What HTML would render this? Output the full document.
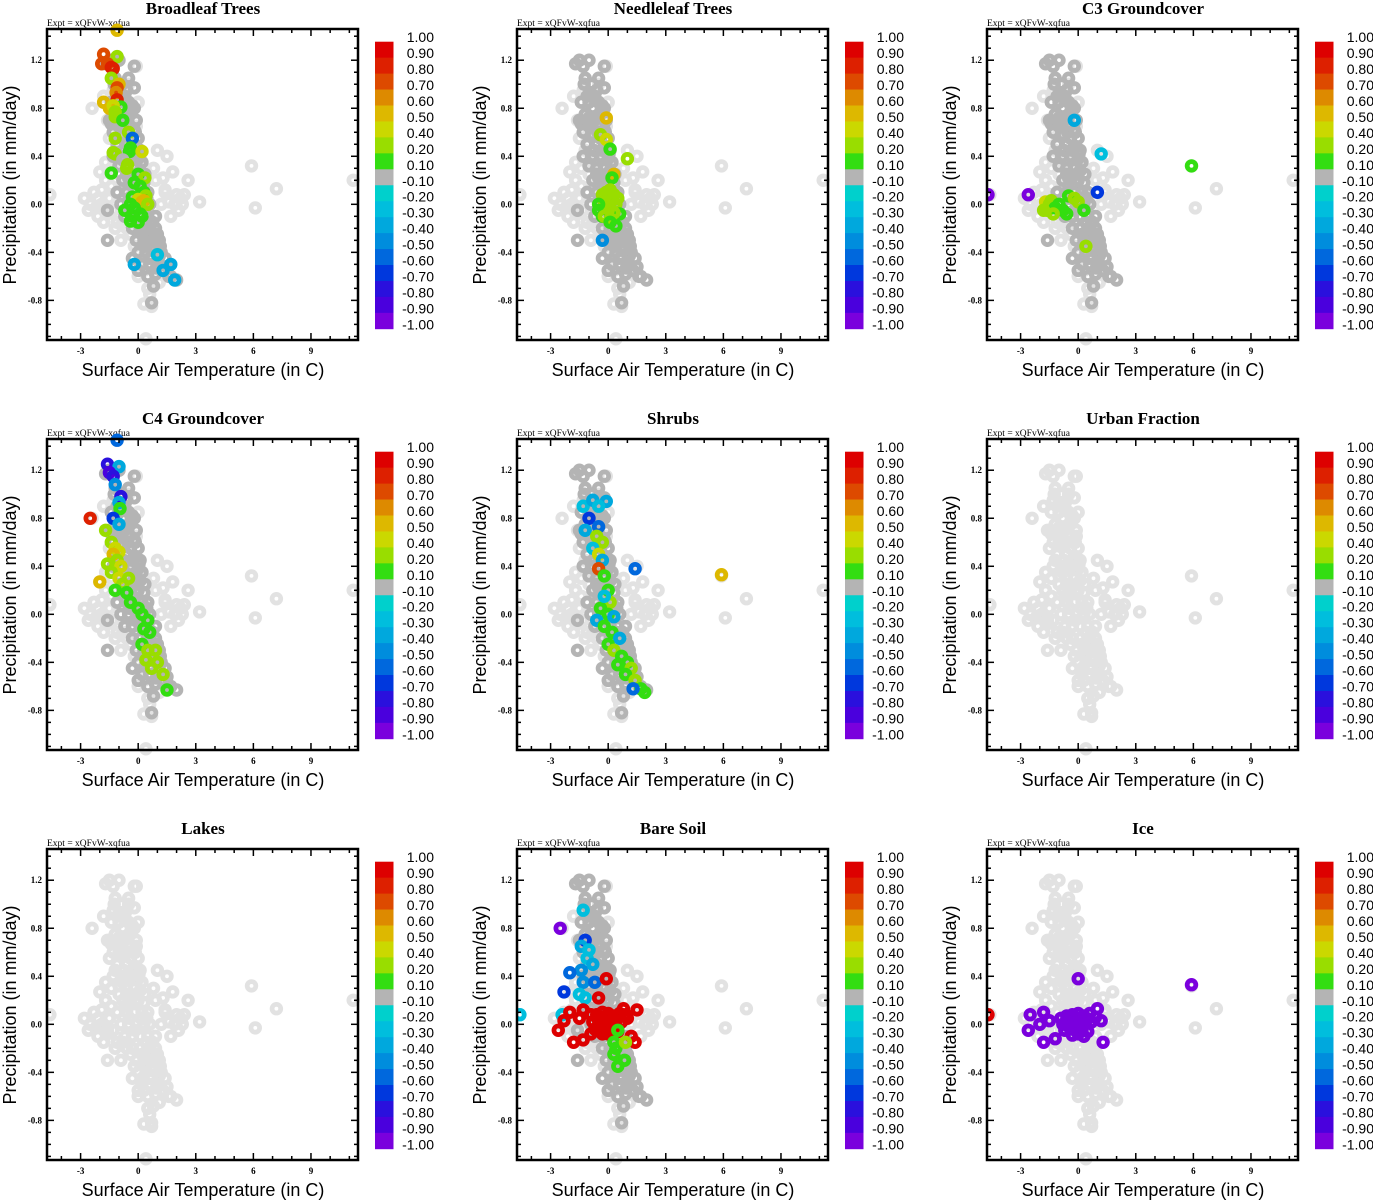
<!DOCTYPE html>
<html><head><meta charset="utf-8"><style>
html,body{margin:0;padding:0;background:#fff;}
svg{display:block;}
.ser{font-family:"Liberation Serif",serif;}
.san{font-family:"Liberation Sans",sans-serif;}
</style></head><body>
<svg id="fig" width="1373" height="1200" viewBox="0 0 1373 1200" xmlns="http://www.w3.org/2000/svg"></svg>
<script>
// ---- data ----
const titles = ["Broadleaf Trees","Needleleaf Trees","C3 Groundcover","C4 Groundcover","Shrubs","Urban Fraction","Lakes","Bare Soil","Ice"];
const darkBand = [true,true,true,true,true,false,false,true,false];
const xTicks = [-3,0,3,6,9];
const yTicks = [1.2,0.8,0.4,0.0,-0.4,-0.8];
const yTickLabels = ["1.2","0.8","0.4","0.0","-0.4","-0.8"];
const cbBounds = [1,0.9,0.8,0.7,0.6,0.5,0.4,0.2,0.1,-0.1,-0.2,-0.3,-0.4,-0.5,-0.6,-0.7,-0.8,-0.9,-1];
const cbLabels = ["1.00","0.90","0.80","0.70","0.60","0.50","0.40","0.20","0.10","-0.10","-0.20","-0.30","-0.40","-0.50","-0.60","-0.70","-0.80","-0.90","-1.00"];
const cbColors = ["#dd0000","#dd2000","#dd4a00","#dd8a00","#ddb800","#cbd800","#99dd00","#33dd11","#b4b4b4","#00d0cc","#00bedd","#00a8dd","#008ddd","#0068dd","#0038dd","#2a10dd","#4a00dd","#7a00dd"];
// background cloud (temperature, precipitation)
const lightT = [-2.4,-1.6,-2.0,-2.3,-2.8,-2.6,-2.2,-1.9,-1.8,-1.5,-1.3,-1.1,-1.7,-1.2,-0.7,-0.2,0.3,1.0,1.5,1.3,1.8,2.6,2.0,2.2,1.6,1.2,1.7,2.3,3.2,5.9,7.2,6.1,-4.6,11.2,0.4,0.3,0.5,0.6,0.0,-0.1,-0.5,-0.1,0.0,-0.3,-0.6,-0.9,-0.4,-1.5,-1.3,-2.1,-1.0,-0.8,0.9,1.4,2.4,0.7,1.1,-1.9,-1.4,-2.5,-2.1,-1.6,-1.2,-0.8,-1.0,-1.4,-1.7,-2.0,1.9,2.1,1.4,0.8,-0.6,-1.1,-1.8,-0.2,0.2];
const lightP = [0.8,0.7,0.27,0.1,0.05,-0.05,-0.03,0.0,-0.15,0.05,-0.05,-0.15,0.2,0.45,0.15,-0.35,-0.55,0.45,0.4,0.22,0.27,0.2,0.08,0.05,0.02,0.0,-0.1,0.0,0.02,0.32,0.13,-0.03,0.08,0.2,-1.12,-0.83,-0.7,-0.75,-0.6,0.65,1.0,1.15,0.85,0.6,-0.2,-0.3,-0.25,0.55,0.95,-0.1,0.6,0.35,0.2,0.1,0.08,-0.85,-0.65,0.12,0.3,0.0,0.05,-0.08,-0.2,-0.15,0.25,0.15,0.35,-0.02,0.0,-0.05,0.12,0.3,0.4,0.7,0.9,0.45,-0.45];
const darkT = [-1.7,-1.5,-1.3,-1.0,-0.2,-1.2,-0.2,-0.6,-0.9,-1.4,-1.0,-0.5,-0.2,-0.8,-1.5,-1.2,-0.4,-0.7,-0.1,-1.0,-0.5,-0.2,-1.3,-0.8,-0.4,0.0,-1.1,-0.6,-0.2,0.1,-1.3,-0.8,-0.4,0.0,0.2,-1.0,-0.6,-0.2,0.1,-0.8,-0.4,0.0,0.3,-1.1,-0.6,-0.2,0.2,0.5,-0.9,-0.5,-0.1,0.3,0.6,-0.7,-0.3,0.1,0.5,0.9,-0.3,0.1,0.5,0.9,-0.1,0.3,0.7,1.1,0.0,0.4,0.8,1.2,0.2,0.6,1.0,1.4,0.5,0.9,1.3,1.7,2.0,0.8,0.7,-1.6,-1.6,-1.4,-0.5,-0.3,0.0,0.4,-1.1,-0.7,-0.35,-0.9,-0.55,-0.15,-0.75,-0.3,0.05,-0.6,-0.1,0.35,-0.45,0.15,0.45,-0.15,0.4,0.75,0.2,0.6,1.0,0.35,0.75,1.15,0.6,1.1,1.5,0.95,1.6,-1.25,-0.85,-0.5,-1.0,-0.65,-0.3];
const darkP = [1.17,1.2,1.15,1.2,1.15,1.05,0.97,0.95,0.9,0.85,0.85,0.85,0.8,0.8,0.7,0.75,0.75,0.7,0.7,0.65,0.65,0.62,0.6,0.58,0.55,0.55,0.5,0.5,0.48,0.45,0.4,0.4,0.4,0.38,0.35,0.32,0.3,0.3,0.28,0.2,0.2,0.2,0.18,0.1,0.1,0.1,0.1,0.1,0.0,0.0,0.0,0.0,0.0,-0.1,-0.1,-0.1,-0.1,-0.1,-0.2,-0.2,-0.2,-0.2,-0.3,-0.3,-0.3,-0.3,-0.4,-0.4,-0.38,-0.4,-0.5,-0.5,-0.48,-0.45,-0.6,-0.58,-0.55,-0.6,-0.63,-0.68,-0.82,-0.3,-0.05,0.67,0.22,-0.45,-0.55,-0.15,0.9,0.9,0.78,0.68,0.6,0.6,0.45,0.45,0.42,0.25,0.25,0.25,0.05,0.05,0.05,-0.05,-0.15,-0.15,-0.25,-0.25,-0.25,-0.35,-0.35,-0.35,-0.45,-0.43,-0.52,-0.53,-0.6,1.0,1.0,1.05,0.72,0.72,0.82];
// coloured points per panel: temperature, precipitation, correlation
const p1T=[-1.8,-1.1,-1.9,-1.6,-1.4,-1.3,-1.4,-1.0,-1.1,-1.15,-1.1,-1.8,-0.9,-1.5,-1.3,-1.2,-1.2,-0.8,-0.5,-0.3,-1.2,-0.4,-0.45,-1.3,-1.2,0.2,-0.8,-0.55,-0.6,-1.4,0.0,0.35,-0.2,0.1,0.3,0.4,-0.3,0.0,0.2,0.3,-0.4,0.5,-0.2,-0.7,-0.3,0.2,-0.4,0.0,0.1,-0.2,1.7,1.3,1.9,-1.1,1.0];
const p1P=[1.25,1.23,1.17,1.17,1.14,1.13,1.05,1.0,0.97,0.93,0.87,0.85,0.81,0.8,0.82,0.77,0.73,0.7,0.6,0.55,0.55,0.47,0.44,0.43,0.42,0.44,0.37,0.33,0.3,0.26,0.25,0.22,0.18,0.15,0.1,0.07,0.06,0.04,0.02,0.03,0.0,0.0,-0.03,-0.05,-0.1,-0.1,-0.14,-0.15,-0.08,-0.5,-0.5,-0.55,-0.63,1.45,-0.42];
const p1V=[0.75,0.35,0.75,0.8,0.85,0.9,0.3,0.6,0.8,0.65,0.85,0.55,0.15,0.55,0.5,0.35,0.4,0.15,0.4,-0.5,0.25,0.15,0.15,0.25,0.3,0.45,0.1,0.3,0.3,0.15,0.15,0.25,0.15,0.15,0.2,0.3,0.15,0.45,0.6,0.6,0.15,0.25,0.2,0.15,0.15,0.2,0.2,0.15,0.15,-0.3,-0.35,-0.3,-0.3,0.55,-0.25];
const p2T=[-0.1,-0.4,-0.1,1.0,0.1,0.3,0.2,-0.3,-0.1,0.1,0.3,0.5,-0.2,0.0,0.2,0.4,-0.5,0.6,0.0,0.3,-0.3,0.1,-0.5,-0.2,0.1,0.4,-0.3];
const p2P=[0.72,0.58,0.54,0.38,0.46,0.25,0.22,0.08,0.1,0.12,0.08,0.05,0.02,0.0,0.03,0.0,-0.05,-0.08,-0.05,-0.07,-0.1,-0.12,0.0,-0.1,-0.15,-0.18,-0.3];
const p2V=[0.55,0.3,0.45,0.3,0.15,0.6,0.15,0.3,0.3,0.3,0.3,0.3,0.3,0.3,0.3,0.3,0.15,0.15,0.3,0.3,0.15,0.3,0.15,0.3,0.15,0.15,-0.45];
const p3T=[-4.7,-2.6,-1.7,-1.5,-1.6,-1.4,-1.2,-1.0,-0.8,-0.6,-0.5,-0.2,0.0,0.3,0.4,1.0,5.9,-0.2,1.2,-1.3,-1.8];
const p3P=[0.08,0.08,0.02,0.0,-0.05,0.03,-0.03,0.0,-0.05,-0.08,0.07,0.05,0.02,-0.05,-0.35,0.1,0.32,0.7,0.42,-0.08,-0.05];
const p3V=[-0.9,-0.9,0.5,0.4,0.4,0.3,0.15,0.2,0.15,0.15,0.15,0.3,0.3,0.15,0.4,-0.6,0.2,-0.3,-0.25,0.25,0.35];
const p4T=[-1.6,-1.0,-1.5,-1.3,-1.1,-1.2,-0.9,-1.0,-0.95,-2.5,-1.3,-1.0,-1.7,-1.4,-1.2,-1.0,-1.3,-1.1,-1.6,-0.9,-1.4,-2.0,-1.0,-0.8,-1.2,-0.6,-0.4,0.0,0.2,0.5,0.3,0.6,0.2,0.5,0.9,0.4,1.0,0.7,1.3,1.5,-0.5];
const p4P=[1.25,1.23,1.18,1.15,1.45,1.08,0.98,0.93,0.88,0.8,0.8,0.75,0.7,0.6,0.55,0.52,0.5,0.45,0.42,0.4,0.35,0.27,0.3,0.25,0.2,0.18,0.1,0.05,0.0,-0.05,-0.12,-0.15,-0.25,-0.3,-0.3,-0.38,-0.4,-0.45,-0.5,-0.63,0.3];
const p4V=[-0.7,-0.3,-0.8,-0.7,-0.5,-0.4,-0.7,-0.3,0.15,0.9,-0.6,-0.3,0.3,0.3,0.45,0.5,0.6,0.35,0.3,0.45,0.25,0.55,0.5,0.3,0.15,0.15,0.15,0.15,0.15,0.15,0.15,0.15,0.2,0.3,0.3,0.35,0.3,0.3,0.3,0.15,0.3];
const p5T=[-0.1,-1.3,-0.8,-0.5,-1.0,-0.5,-1.2,-0.6,-0.3,-0.8,-0.5,-0.3,-0.5,1.4,5.9,-0.2,0.0,0.1,-0.4,0.0,0.3,-0.6,-0.2,0.2,0.6,0.0,0.3,0.7,1.0,0.5,1.2,0.9,1.4,1.7,1.9,1.3,-0.2];
const p5P=[0.94,0.9,0.95,0.9,0.8,0.73,0.7,0.65,0.6,0.55,0.5,0.45,0.38,0.38,0.33,0.32,0.2,0.1,0.05,0.0,-0.02,-0.05,-0.1,-0.15,-0.2,-0.25,-0.3,-0.35,-0.4,-0.42,-0.45,-0.5,-0.55,-0.62,-0.65,-0.62,0.15];
const p5V=[-0.3,-0.25,-0.35,-0.2,-0.6,-0.5,-0.3,0.4,0.3,-0.2,0.5,-0.3,0.8,-0.5,0.6,0.2,0.15,0.3,0.15,0.15,-0.3,-0.3,0.15,0.15,-0.3,0.15,0.3,0.15,0.15,0.2,0.3,0.15,0.3,0.15,0.2,-0.5,-0.2];
const p8T=[-2.5,-1.3,-1.2,-1.4,-1.0,-1.1,-0.8,-1.4,-2.0,-1.3,-0.7,-2.3,-1.5,-1.2,-4.6,-2.4,-0.1,-0.5,-2.0,-2.3,-2.6,-1.8,-1.3,-1.5,-1.3,1.5,1.4,1.2,1.0,0.8,-0.9,-0.6,-0.3,0.0,0.3,0.6,0.9,-0.8,-0.5,-0.2,0.1,0.4,0.7,-0.7,-0.4,-0.1,0.2,0.5,-0.3,0.0,0.3,-0.9,0.5,0.3,0.4,0.3,0.9,0.85,0.5];
const p8P=[0.8,0.95,0.7,0.65,0.62,0.55,0.5,0.45,0.43,0.35,0.35,0.27,0.25,0.22,0.08,0.08,0.38,0.22,0.1,0.03,-0.05,-0.15,-0.13,0.05,0.12,0.12,-0.15,-0.1,0.05,0.13,0.08,0.08,0.1,0.09,0.07,0.09,0.08,0.02,0.03,0.01,0.02,0.03,0.02,-0.04,-0.05,-0.03,-0.04,-0.06,-0.08,-0.08,-0.07,-0.08,-0.05,-0.15,-0.2,-0.25,-0.15,-0.3,-0.35];
const p8V=[-0.9,-0.25,-0.6,-0.3,-0.25,-0.25,-0.3,-0.4,-0.5,-0.4,-0.5,-0.6,-0.2,-0.25,-0.2,-0.25,0.95,0.95,0.95,0.95,0.95,0.95,0.95,0.95,0.95,0.95,0.95,0.95,0.95,0.95,0.95,0.95,0.95,0.95,0.95,0.95,0.95,0.95,0.95,0.95,0.95,0.95,0.95,0.95,0.95,0.95,0.95,0.95,0.95,0.95,0.95,0.95,0.15,0.15,0.15,0.15,0.3,0.15,0.15];
const p9T=[-4.7,-2.5,-1.8,-2.0,-2.6,-1.8,-1.2,-1.5,5.9,0.0,1.3,1.0,-0.9,-0.6,-0.3,0.0,0.3,0.6,0.9,-0.8,-0.5,-0.2,0.1,0.4,0.7,-0.7,-0.4,-0.1,0.2,0.5,-0.3,0.0,0.3,1.2];
const p9P=[0.08,0.08,0.1,0.0,-0.05,-0.15,-0.12,0.03,0.33,0.38,-0.15,0.13,0.05,0.07,0.08,0.09,0.07,0.09,0.06,0.0,0.02,0.01,0.02,0.03,0.02,-0.05,-0.04,-0.03,-0.05,-0.06,-0.09,-0.08,-0.1,0.03];
const p9V=[0.95,-0.9,-0.9,-0.9,-0.9,-0.9,-0.9,-0.9,-0.9,-0.9,-0.9,-0.9,-0.9,-0.9,-0.9,-0.9,-0.9,-0.9,-0.9,-0.9,-0.9,-0.9,-0.9,-0.9,-0.9,-0.9,-0.9,-0.9,-0.9,-0.9,-0.9,-0.9,-0.9,-0.9];
const colT=[p1T,p2T,p3T,p4T,p5T,[],[],p8T,p9T];
const colP=[p1P,p2P,p3P,p4P,p5P,[],[],p8P,p9P];
const colV=[p1V,p2V,p3V,p4V,p5V,[],[],p8V,p9V];

// ---- drawing ----
const NS="http://www.w3.org/2000/svg";
const svg=document.getElementById('fig');
function mk(tag,attrs,parent){const e=document.createElementNS(NS,tag);for(const k in attrs)e.setAttribute(k,attrs[k]);(parent||svg).appendChild(e);return e;}
const X0=-4.75,X1=11.45,Y0=-1.13,Y1=1.46,BW=311,BH=311;
function colorOf(v){for(let i=0;i<cbColors.length;i++){if(v<=cbBounds[i]&&v>cbBounds[i+1])return cbColors[i];}return cbColors[cbColors.length-1];}
function ring(g,x,y,c){mk('circle',{cx:x.toFixed(1),cy:y.toFixed(1),r:4.3,fill:'none',stroke:c,'stroke-width':4.8},g);}

for(let k=0;k<9;k++){
  const ox=(k%3)*470, oy=Math.floor(k/3)*410;
  const L=ox+47,T=oy+29;
  const sx=t=>L+(t-X0)/(X1-X0)*BW;
  const sy=p=>T+(Y1-p)/(Y1-Y0)*BH;
  const g=mk('g',{});
  
  
  const tt=mk('text',{x:ox+203,y:oy+14,'text-anchor':'middle','font-size':17,'font-weight':'bold',class:'ser'},g);
  tt.textContent=titles[k];
  
  
  const ex=mk('text',{x:L,y:oy+26,'font-size':9.5,class:'ser'},g);
  ex.textContent='Expt = xQFvW-xqfua';
  
  
  const cg=mk('g',{'clip-path':'url(#clip'+k+')'},g);
  const cp=mk('clipPath',{id:'clip'+k},g); mk('rect',{x:L,y:T-8,width:BW+8,height:BH+16},cp);
  
  
  for(let i=0;i<lightT.length;i++) ring(cg,sx(lightT[i]),sy(lightP[i]),'#e2e2e2');
  for(let i=0;i<darkT.length;i++) ring(cg,sx(darkT[i]),sy(darkP[i]),darkBand[k]?'#b4b4b4':'#e2e2e2');
  const ct=colT[k],cpP=colP[k],cv=colV[k];
  for(let i=0;i<ct.length;i++) ring(cg,sx(ct[i]),sy(cpP[i]),colorOf(cv[i]));
  // frame
  const fr=mk('rect',{x:L,y:T,width:BW,height:BH,fill:'none',stroke:'#000','stroke-width':2.5},g);
  
  
  // x ticks
  for(let t=-4;t<=11;t++){const x=sx(t),len=(t%3===0)?7:4;
    mk('line',{x1:x,y1:T+BH,x2:x,y2:T+BH-len,stroke:'#000','stroke-width':1.5},g);
    mk('line',{x1:x,y1:T,x2:x,y2:T+len,stroke:'#000','stroke-width':1.5},g);}
  xTicks.forEach(t=>{const tl=mk('text',{x:sx(t),y:T+BH+14,'text-anchor':'middle','font-size':9,'font-weight':'bold',class:'ser'},g);tl.textContent=String(t);
    
    });
  for(let i=-11;i<=14;i++){const p=i/10,y=sy(p),len=(i%4===0)?7:4;
    mk('line',{x1:L,y1:y,x2:L+len,y2:y,stroke:'#000','stroke-width':1.5},g);
    mk('line',{x1:L+BW,y1:y,x2:L+BW-len,y2:y,stroke:'#000','stroke-width':1.5},g);}
  yTicks.forEach((p,i)=>{const tl=mk('text',{x:L-5,y:sy(p)+3,'text-anchor':'end','font-size':9,'font-weight':'bold',class:'ser'},g);tl.textContent=yTickLabels[i];
    
    });
  const xl=mk('text',{x:ox+203,y:oy+376,'text-anchor':'middle','font-size':18,class:'san'},g);
  xl.textContent='Surface Air Temperature (in C)';
  
  
  const yl=mk('text',{x:0,y:0,'text-anchor':'middle','font-size':18,class:'san',transform:'translate('+(ox+16)+','+(oy+185)+') rotate(-90)'},g);
  yl.textContent='Precipitation (in mm/day)';
  
  
  // colorbar
  const cb=mk('g',{},g);
  
  
  const cbT=oy+41.7,step=15.95;
  cbColors.forEach((c,i)=>mk('rect',{x:ox+375,y:cbT+i*step,width:18.5,height:step+0.4,fill:c},cb));
  cbLabels.forEach((s,i)=>{const tl=mk('text',{x:ox+434,y:cbT+i*step+0.5,'text-anchor':'end','font-size':14,class:'san'},cb);tl.textContent=s;
    
    });
}
</script>
</body></html>
